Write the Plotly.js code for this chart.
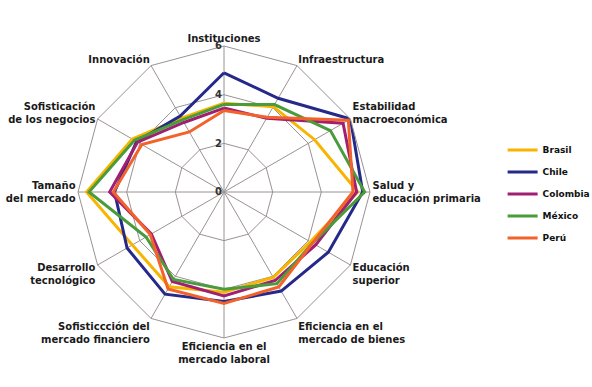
<!DOCTYPE html>
<html>
<head>
<meta charset="utf-8">
<script src="https://cdn.plot.ly/plotly-3.0.1.min.js"></script>
<style>html,body{margin:0;padding:0;background:#fff}#chart{width:592px;height:387px}</style>
</head>
<body>
<div id="chart"></div>
<script>
// Pillars (categories), clockwise from top
const categories = [
  "Instituciones",
  "Infraestructura",
  "Estabilidad<br>macroeconómica",
  "Salud y<br>educación primaria",
  "Educación<br>superior",
  "Eficiencia en el<br>mercado de bienes",
  "Eficiencia en el<br>mercado laboral",
  "Sofisticcción del<br>mercado financiero",
  "Desarrollo<br>tecnológico",
  "Tamaño<br>del mercado",
  "Sofisticación<br>de los negocios",
  "Innovación"
];

const brasil   = [3.65, 4.05, 4.30, 5.50, 4.10, 4.05, 4.12, 4.50, 4.35, 5.65, 4.35, 3.50];
const chile    = [4.90, 4.45, 6.00, 5.70, 4.95, 4.70, 4.50, 4.85, 4.60, 4.50, 4.15, 3.60];
const colombia = [3.45, 3.50, 5.65, 5.45, 4.35, 4.20, 4.27, 4.25, 3.45, 4.70, 4.10, 3.30];
const mexico   = [3.60, 4.15, 5.05, 5.78, 4.20, 4.35, 4.00, 4.15, 3.70, 5.55, 4.25, 3.42];
const peru     = [3.35, 3.55, 5.90, 5.30, 4.20, 4.50, 4.58, 4.60, 3.50, 4.55, 3.90, 2.85];

const seriesNames = ["Brasil", "Chile", "Colombia", "México", "Perú"];
const seriesData = [brasil, chile, colombia, mexico, peru];
const seriesColors = ["#F7B500", "#25298A", "#A01F72", "#4A9B3B", "#F2622A"];

const radialTicks = [0, 2, 4, 6];

const gridColor = "#9b9292";
const fontFam = "DejaVu Sans, Verdana, sans-serif";

const traces = seriesNames.map((name, i) => ({
  type: "scatterpolar",
  mode: "lines",
  name: name,
  legendgroup: name,
  r: seriesData[i].concat([seriesData[i][0]]),
  theta: categories.concat([categories[0]]),
  line: {color: seriesColors[i], width: 3},
  hoverinfo: "skip"
}));

const layout = {
  width: 592,
  height: 387,
  margin: {l: 0, r: 0, t: 0, b: 0, autoexpand: false},
  paper_bgcolor: "#ffffff",
  plot_bgcolor: "#ffffff",
  showlegend: true,
  legend: {
    x: 0.849, y: 0.65, xanchor: "left", yanchor: "top",
    font: {family: fontFam, size: 9, weight: "bold", color: "#111"},
    itemwidth: 30,
    tracegroupgap: 3,
    bgcolor: "rgba(0,0,0,0)"
  },
  polar: {
    domain: {x: [0.1318, 0.625], y: [0.1266, 0.8811]},
    bgcolor: "#ffffff",
    gridshape: "linear",
    angularaxis: {
      type: "category",
      categoryarray: categories,
      direction: "clockwise",
      rotation: 90,
      showline: true,
      linecolor: gridColor,
      linewidth: 1,
      gridcolor: gridColor,
      gridwidth: 1,
      ticks: "",
      tickfont: {family: fontFam, size: 10, weight: "bold", color: "#1a1a1a"}
    },
    radialaxis: {
      range: [0, 6],
      tickvals: radialTicks,
      ticktext: radialTicks.map(String),
      angle: 90,
      tickangle: 90,
      side: "counterclockwise",
      showline: false,
      ticks: "",
      gridcolor: gridColor,
      gridwidth: 1,
      tickfont: {family: fontFam, size: 10, weight: "bold", color: "#333"}
    }
  }
};

Plotly.newPlot("chart", traces, layout, {staticPlot: true, displayModeBar: false});
</script>
</body>
</html>
